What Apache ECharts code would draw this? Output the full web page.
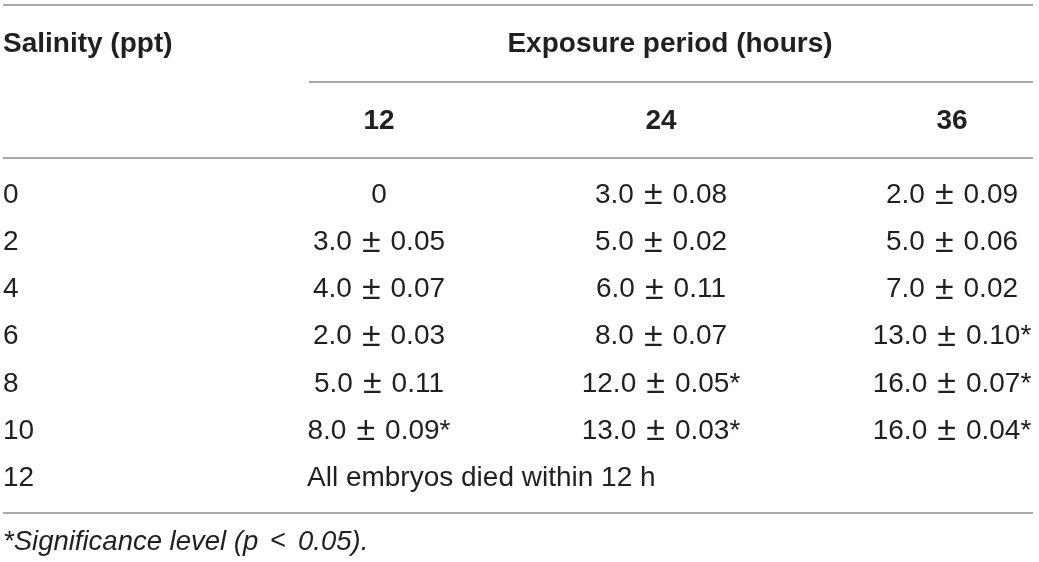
<!DOCTYPE html>
<html>
<head>
<meta charset="utf-8">
<script src="https://cdn.jsdelivr.net/npm/echarts@6.0.0/dist/echarts.min.js"></script>
<style>
    html, body { margin: 0; padding: 0; background: #fff; }
    #container { width: 1039px; height: 562px; }
</style>
</head>
<body>
<div id="container"></div>
<script>
// 表格数据
let salinity = ['0', '2', '4', '6', '8', '10', '12'];
let hours = ['12', '24', '36'];
let mean12 = [0, 3.0, 4.0, 2.0, 5.0, 8.0];
let se12 = [null, 0.05, 0.07, 0.03, 0.11, 0.09];
let sig12 = [false, false, false, false, false, true];
let mean24 = [3.0, 5.0, 6.0, 8.0, 12.0, 13.0];
let se24 = [0.08, 0.02, 0.11, 0.07, 0.05, 0.03];
let sig24 = [false, false, false, false, true, true];
let mean36 = [2.0, 5.0, 7.0, 13.0, 16.0, 16.0];
let se36 = [0.09, 0.06, 0.02, 0.10, 0.07, 0.04];
let sig36 = [false, false, false, true, true, true];
let diedNote = 'All embryos died within 12 h';
let headFirst = 'Salinity (ppt)';
let headGroup = 'Exposure period (hours)';
let footNote = ['*Significance level (p', '<', '0.05).'];

init();

// 均值 ± 标准误
function fmt(m, s, sig) {
    if (s === null || s === undefined) return '{n|' + String(m) + '}';
    return '{n|' + m.toFixed(1) + '}{pm|\u00b1}{n|' + s.toFixed(2) + (sig ? '*' : '') + '}';
}

function init() {
    var dom = document.getElementById("container");
    var myChart = echarts.init(dom, null, {renderer: 'canvas'});

    // 布局
    let colX = [3, 379, 661, 952];
    let rowTop = 195, rowStep = 47.2;
    let lineColor = '#8c8c8c';
    let textColor = '#231f20';
    let family = '"Liberation Sans", Arial, sans-serif';
    let bodyRich = {
        n: {fontSize: 28, fontFamily: family, fill: textColor, lineHeight: 36},
        pm: {fontSize: 34, fontFamily: family, fill: textColor, lineHeight: 36, padding: [0, 10, 0, 10]},
        it: {fontSize: 27.5, fontFamily: family, fontStyle: 'italic', fill: textColor, lineHeight: 36},
        lt: {fontSize: 27, fontFamily: family, fill: textColor, lineHeight: 36, padding: [0, 12, 0, 12]}
    };

    let els = [];
    function txt(t, x, y, align, bold) {
        let style = {text: t, fill: textColor, align: align, verticalAlign: 'middle'};
        if (bold) {
            style.font = 'bold 28px ' + family;
        } else {
            style.rich = bodyRich;
        }
        els.push({type: 'text', x: x, y: y, silent: true, style: style});
    }
    function hline(x1, x2, y) {
        els.push({
            type: 'line', silent: true,
            shape: {x1: x1, y1: y, x2: x2, y2: y},
            style: {stroke: lineColor, lineWidth: 1.5}
        });
    }

    // 表头
    hline(3, 1033, 5);
    txt(headFirst, colX[0], 44, 'left', true);
    txt(headGroup, 670, 44, 'center', true);
    hline(309, 1033, 82);
    hours.forEach(function(h, i) {
        txt(h, colX[i + 1], 121, 'center', true);
    });
    hline(3, 1033, 158);

    // 数据行
    let means = [mean12, mean24, mean36];
    let ses = [se12, se24, se36];
    let sigs = [sig12, sig24, sig36];
    salinity.forEach(function(s, r) {
        let y = rowTop + r * rowStep;
        txt('{n|' + s + '}', colX[0], y, 'left');
        if (r < mean12.length) {
            for (let c = 0; c < 3; c++) {
                txt(fmt(means[c][r], ses[c][r], sigs[c][r]), colX[c + 1], y, 'center');
            }
        } else {
            txt('{n|' + diedNote + '}', 307, y, 'left');
        }
    });
    hline(3, 1033, 513);

    // 脚注
    txt('{it|' + footNote[0] + '}{lt|' + footNote[1] + '}{it|' + footNote[2] + '}', colX[0], 542, 'left');

    myChart.setOption({
        animation: false,
        graphic: {elements: els}
    });
}
</script>
</body>
</html>
